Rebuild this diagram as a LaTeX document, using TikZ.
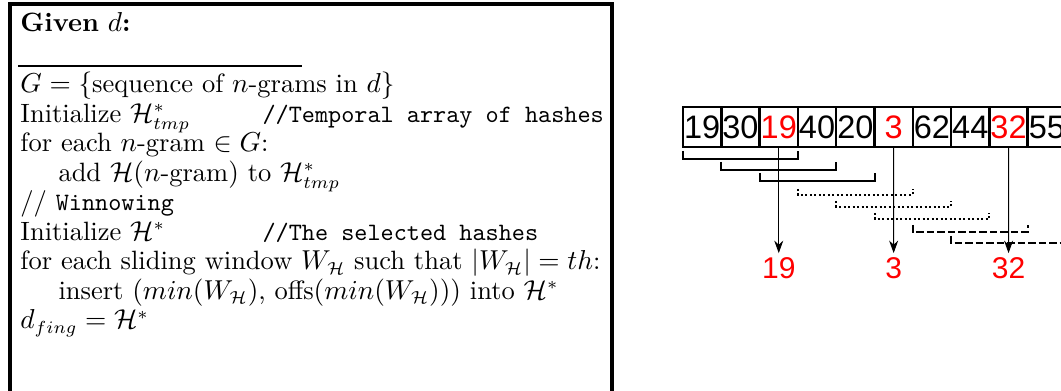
\documentclass[tikz,border=0pt]{standalone}
\usepackage{fontspec}
\newfontfamily\arialfont{Liberation Sans}
\usetikzlibrary{positioning,arrows.meta}
\newcommand{\cmt}[1]{{\fontsize{10}{12}\selectfont\ttfamily #1}}

\begin{document}
\begin{tikzpicture}[x=0.4pt,y=-0.4pt,
  line/.style={anchor=base west, inner sep=0pt, font=\fontsize{10.6}{13}\selectfont},
  cell/.style={draw, line width=1pt, minimum width=15.32pt, minimum height=16pt, inner sep=0pt, font=\arialfont\fontsize{13}{15}\selectfont},
  pick/.style={inner sep=1.5pt, text=red, font=\arialfont\fontsize{12}{14}\selectfont},
  win/.style={line width=0.8pt},
  ]
\useasboundingbox (0,0) rectangle (1061,391);

%% 枠
\draw[line width=1.4pt] (10,391) |- (612,4) -- (612,391);
\draw[line width=1.1pt] (18,66) -- (302,66);

%% 本文
\node[line] (given) at (20,32) {\textbf{Given} $d$\textbf{:}};
\node[line] (l1) at (20,93) {$G=\{$sequence of $n$-grams in $d\}$};
\node[line] (l2) at (20,122.5) {Initialize $\mathcal{H}^*_{tmp}$};
\node[line] (l3) at (20,152) {for each $n$-gram $\in G$:};
\node[line] (l4) at (58,181.5) {add $\mathcal{H}(n$-gram$)$ to $\mathcal{H}^*_{tmp}$};
\node[line] (l5) at (20,211) {// \cmt{Winnowing}};
\node[line] (l6) at (20,240.5) {Initialize $\mathcal{H}^*$};
\node[line] (l7) at (20,270) {for each sliding window $W_{\mathcal{H}}$ such that $|W_{\mathcal{H}}|=th$:};
\node[line] (l8) at (58,299.5) {insert $(min(W_{\mathcal{H}})$, offs$(min(W_{\mathcal{H}})))$ into $\mathcal{H}^*$};
\node[line] (l9) at (20,329) {$d_{fing}=\mathcal{H}^*$};

% comments
\node[line] (cmt1) at (262,122.5) {\cmt{//Temporal array of hashes}};
\node[line] (cmt2) at (262,240.5) {\cmt{//The selected hashes}};

%% 配列
\foreach \v/\c [count=\i from 0] in {19/black,30/black,19/red,40/black,20/black,3/red,62/black,44/black,32/red,55/black}
  \node[cell, text=\c] (c\i) at ({683+38.3*\i+19.15},127) {\v};

%% 窓
\foreach \k/\y in {0/159,1/170,2/181}
  \draw[win] ({683+38.3*\k},{\y-8}) |- ({683+38.3*(\k+3)},\y) -- ++(0,-8);
\foreach \k/\y in {3/195,4/207,5/219}
  \draw[win, densely dotted] ({683+38.3*\k},{\y-6}) |- ({683+38.3*(\k+3)},\y) -- ++(0,-6);
\foreach \k/\y in {6/232,7/243}
  \draw[win, dash pattern=on 3pt off 1.2pt] ({683+38.3*\k},{\y-7}) |- ({683+38.3*(\k+3)},\y) -- ++(0,-7);

%% 最小値
\node[pick] (m2) at (778.75,268) {19};
\node[pick] (m5) at (893.65,268) {3};
\node[pick] (m8) at (1008.55,268) {32};

\draw[-{Stealth[length=5pt,width=3.6pt]}] (c2.south) -- (m2.north);
\draw[-{Stealth[length=5pt,width=3.6pt]}] (c5.south) -- (m5.north);
\draw[-{Stealth[length=5pt,width=3.6pt]}] (c8.south) -- (m8.north);

\end{tikzpicture}
\end{document}
